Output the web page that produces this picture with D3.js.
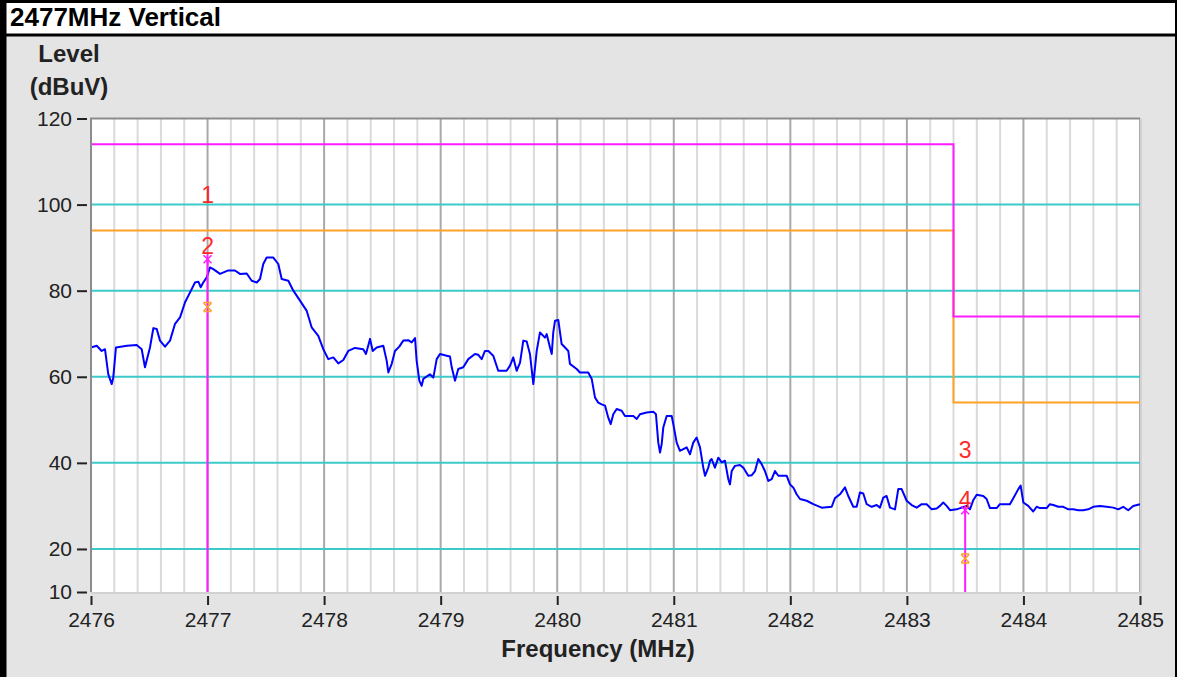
<!DOCTYPE html>
<html>
<head>
<meta charset="utf-8">
<script src="https://cdn.jsdelivr.net/npm/d3@7"></script>
<style>
  body { margin: 0; background: #fff; }
  svg { display: block; font-family: "Liberation Sans", Arial, sans-serif; }
</style>
</head>
<body>
<svg id="chart" width="1177" height="677"></svg>
<script>
const title = '2477MHz Vertical'

// measured trace: [frequency MHz, level dBuV]
const trace = [
  [2476.000,66.8],[2476.049,67.2],[2476.092,66.0],[2476.120,66.4],[2476.148,60.6],[2476.178,58.3],[2476.191,59.8],[2476.214,66.8],
  [2476.309,67.2],[2476.392,67.4],[2476.435,66.4],[2476.463,62.2],[2476.506,66.8],[2476.535,71.3],[2476.564,71.1],[2476.592,68.4],
  [2476.635,67.0],[2476.678,68.4],[2476.721,72.3],[2476.764,73.8],[2476.807,77.3],[2476.850,79.6],[2476.892,81.9],[2476.921,82.1],
  [2476.941,80.8],[2476.963,81.9],[2476.993,83.1],[2477.021,85.4],[2477.049,85.0],[2477.107,83.9],[2477.178,84.7],[2477.235,84.7],
  [2477.278,83.9],[2477.336,84.0],[2477.379,82.3],[2477.422,81.9],[2477.450,82.7],[2477.478,86.2],[2477.507,87.7],[2477.564,87.7],
  [2477.607,86.2],[2477.636,82.7],[2477.693,82.3],[2477.736,80.0],[2477.793,77.7],[2477.851,75.3],[2477.893,71.5],[2477.950,69.5],
  [2477.993,66.4],[2478.036,64.1],[2478.079,64.5],[2478.122,63.1],[2478.165,63.9],[2478.207,66.0],[2478.265,66.7],[2478.336,66.4],
  [2478.359,65.3],[2478.394,68.8],[2478.417,66.0],[2478.451,66.8],[2478.508,67.2],[2478.537,63.7],[2478.551,61.0],[2478.580,63.0],
  [2478.608,66.0],[2478.645,67.0],[2478.679,68.4],[2478.722,68.5],[2478.751,68.0],[2478.780,69.0],[2478.794,63.7],[2478.817,59.1],
  [2478.837,57.9],[2478.851,59.5],[2478.908,60.6],[2478.937,59.8],[2478.966,64.1],[2478.994,65.3],[2479.052,64.9],[2479.080,64.7],
  [2479.095,62.2],[2479.123,59.1],[2479.151,61.8],[2479.194,62.2],[2479.237,64.1],[2479.294,65.3],[2479.323,65.1],[2479.352,64.1],
  [2479.380,66.0],[2479.409,66.0],[2479.451,64.9],[2479.494,61.4],[2479.566,61.4],[2479.595,62.6],[2479.623,64.5],[2479.652,61.4],
  [2479.681,63.3],[2479.709,68.4],[2479.738,68.2],[2479.766,65.3],[2479.795,58.3],[2479.824,66.0],[2479.852,70.3],[2479.895,69.1],
  [2479.910,69.9],[2479.938,66.8],[2479.953,65.3],[2479.966,70.3],[2479.981,73.0],[2480.009,73.2],[2480.038,67.6],[2480.067,66.8],
  [2480.095,66.0],[2480.109,63.0],[2480.167,61.8],[2480.195,61.0],[2480.230,61.0],[2480.266,61.0],[2480.296,59.5],[2480.324,55.2],
  [2480.352,54.0],[2480.381,53.6],[2480.410,53.3],[2480.438,50.5],[2480.459,49.0],[2480.481,51.3],[2480.510,52.5],[2480.553,52.1],
  [2480.581,50.9],[2480.653,50.9],[2480.682,50.2],[2480.710,51.3],[2480.767,51.7],[2480.824,51.9],[2480.847,51.3],[2480.867,44.7],
  [2480.882,42.4],[2480.896,44.3],[2480.910,48.2],[2480.939,50.9],[2480.982,50.9],[2480.996,49.0],[2481.025,44.7],[2481.053,42.8],
  [2481.082,43.2],[2481.111,43.6],[2481.139,42.0],[2481.167,44.7],[2481.196,45.9],[2481.225,43.6],[2481.253,38.9],[2481.268,37.0],
  [2481.296,38.9],[2481.311,40.5],[2481.325,40.9],[2481.353,38.9],[2481.382,41.2],[2481.411,40.1],[2481.439,40.5],[2481.468,36.2],
  [2481.482,35.0],[2481.497,38.1],[2481.525,39.3],[2481.568,39.5],[2481.596,38.9],[2481.639,37.0],[2481.668,37.1],[2481.697,38.1],
  [2481.725,40.9],[2481.754,39.7],[2481.782,38.1],[2481.811,35.8],[2481.840,36.2],[2481.868,38.1],[2481.897,37.0],[2481.969,37.0],
  [2481.997,35.0],[2482.025,34.3],[2482.054,32.7],[2482.083,31.6],[2482.140,31.2],[2482.197,30.4],[2482.269,29.6],[2482.355,29.8],
  [2482.383,31.8],[2482.426,32.7],[2482.469,34.3],[2482.497,32.3],[2482.540,29.8],[2482.569,29.8],[2482.597,33.1],[2482.626,32.9],
  [2482.655,30.4],[2482.698,29.8],[2482.741,30.2],[2482.769,29.6],[2482.797,31.9],[2482.826,32.3],[2482.855,29.6],[2482.898,29.2],
  [2482.926,33.9],[2482.955,33.9],[2482.998,31.2],[2483.041,30.2],[2483.084,29.6],[2483.127,30.4],[2483.170,30.4],[2483.213,29.2],
  [2483.256,29.4],[2483.284,30.0],[2483.312,30.8],[2483.341,30.0],[2483.370,29.0],[2483.427,29.2],[2483.470,29.6],[2483.513,30.0],
  [2483.541,29.2],[2483.569,31.3],[2483.599,32.6],[2483.655,32.3],[2483.684,31.6],[2483.713,29.5],[2483.770,29.5],[2483.798,30.4],
  [2483.884,30.4],[2483.913,31.8],[2483.956,33.9],[2483.976,34.7],[2483.999,30.8],[2484.041,30.0],[2484.084,28.7],[2484.113,29.8],
  [2484.142,29.5],[2484.199,29.5],[2484.227,30.4],[2484.256,30.2],[2484.299,29.8],[2484.342,29.8],[2484.385,29.2],[2484.427,29.2],
  [2484.470,29.0],[2484.513,29.0],[2484.556,29.2],[2484.599,29.8],[2484.656,30.0],[2484.714,29.8],[2484.771,29.6],[2484.814,29.2],
  [2484.856,29.8],[2484.899,29.0],[2484.942,30.0],[2485.000,30.4]
]

// limit lines (step after)
const limitFreqs = [2476, 2483.4, 2485]
const peakLimit = [114, 74, 74]
const avgLimit = [94, 54, 54]

// markers
const markerFreqs = [2477, 2483.5]
const markerPeak = [87.3, 29.0]
const markerAvg = [76.2, 17.8]
const labelNames = ['1', '2', '3', '4']
const labelFreqs = [2477, 2477, 2483.5, 2483.5]
const labelLevels = [102.2, 90.4, 43.0, 31.4]

const xTicks = [2476, 2477, 2478, 2479, 2480, 2481, 2482, 2483, 2484, 2485]
const yTicks = [10, 20, 40, 60, 80, 100, 120]
const gridLevels = [20, 40, 60, 80, 100]

const svg = d3.select('#chart')

const x = d3.scaleLinear().domain([2476, 2485]).range([91, 1140])
const y = d3.scaleLinear().domain([10, 120]).range([592, 118.5])

// frame
svg.append('rect').attr('width', 1177).attr('height', 677).attr('fill', '#000')
svg.append('rect').attr('x', 6.5).attr('y', 3).attr('width', 1168.5).attr('height', 30.5).attr('fill', '#fff')
svg.append('rect').attr('x', 6.5).attr('y', 36.5).attr('width', 1168.5).attr('height', 641).attr('fill', '#e4e4e4')

svg.append('text')
  .attr('x', 10).attr('y', 26)
  .attr('font-size', 26).attr('font-weight', 'bold')
  .text(title)

// plot background
const [x0, x1] = x.range()
const [yb, yt] = y.range()
svg.append('rect').attr('x', x0).attr('y', yt).attr('width', x1 - x0).attr('height', yb - yt).attr('fill', '#fff')

// vertical grid every 0.2 MHz
const minorFreqs = x.ticks(45)
svg.append('g').selectAll('line').data(minorFreqs).join('line')
  .attr('x1', d => x(d)).attr('x2', d => x(d))
  .attr('y1', yt).attr('y2', yb)
  .attr('stroke', d => Math.abs(d - Math.round(d)) < 1e-6 ? '#a9a9a9' : '#dadada')
  .attr('stroke-width', 2)

svg.append('g').selectAll('line').data(gridLevels).join('line')
  .attr('x1', x0).attr('x2', x1)
  .attr('y1', d => y(d)).attr('y2', d => y(d))
  .attr('stroke', '#3cc9c9').attr('stroke-width', 2)

const step = d3.line().x(d => x(d[0])).y(d => y(d[1])).curve(d3.curveStepAfter)
svg.append('path')
  .attr('d', step(limitFreqs.map((f, i) => [f, avgLimit[i]])))
  .attr('fill', 'none').attr('stroke', '#ffa126').attr('stroke-width', 2)
svg.append('path')
  .attr('d', step(limitFreqs.map((f, i) => [f, peakLimit[i]])))
  .attr('fill', 'none').attr('stroke', '#ff1cff').attr('stroke-width', 2)

const line = d3.line().x(d => x(d[0])).y(d => y(d[1]))
svg.append('path')
  .attr('d', line(trace))
  .attr('fill', 'none').attr('stroke', '#0000ff').attr('stroke-width', 2)
  .attr('stroke-linejoin', 'round')

// marker lines and symbols
svg.append('g').selectAll('line').data(markerFreqs).join('line')
  .attr('x1', d => x(d)).attr('x2', d => x(d))
  .attr('y1', yb).attr('y2', (d, i) => y(markerPeak[i]))
  .attr('stroke', '#ff1cff').attr('stroke-width', 2)

svg.append('g').selectAll('path').data(markerFreqs).join('path')
  .attr('transform', (d, i) => `translate(${x(d)},${y(markerPeak[i])})`)
  .attr('d', 'M-4,-4L4,4M4,-4L-4,4M0,-5V5')
  .attr('stroke', '#ff1cff').attr('stroke-width', 1.5).attr('fill', 'none')

svg.append('g').selectAll('path').data(markerFreqs).join('path')
  .attr('transform', (d, i) => `translate(${x(d)},${y(markerAvg[i])})`)
  .attr('d', 'M-4,-4L4,4M4,-4L-4,4M-4,-4.5H4M-4,4.5H4')
  .attr('stroke', '#ffa126').attr('stroke-width', 1.5).attr('fill', 'none')

svg.append('g').selectAll('text').data(labelNames).join('text')
  .attr('x', (d, i) => x(labelFreqs[i]))
  .attr('y', (d, i) => y(labelLevels[i]))
  .attr('dy', '0.36em')
  .attr('text-anchor', 'middle')
  .attr('font-size', 23).attr('fill', '#ff2a2a')
  .text(d => d)

// plot border
svg.append('path').attr('d', `M${x0},${yb}V${yt}H${x1}`)
  .attr('fill', 'none').attr('stroke', '#8c8c8c').attr('stroke-width', 2)
svg.append('path').attr('d', `M${x0},${yb + 1}H${x1 + 1}V${yt}`)
  .attr('fill', 'none').attr('stroke', '#d2d2d2').attr('stroke-width', 2)

// axes
const xAxis = svg.append('g')
  .attr('transform', `translate(0,${yb + 4})`)
  .call(d3.axisBottom(x).tickValues(xTicks).tickFormat(d3.format('d')).tickSize(9).tickPadding(7))
const yAxis = svg.append('g')
  .attr('transform', `translate(${x0 - 4},0)`)
  .call(d3.axisLeft(y).tickValues(yTicks).tickSize(10).tickPadding(5))

for (const ax of [xAxis, yAxis]) {
  ax.select('.domain').remove()
  ax.selectAll('line').attr('stroke', '#222').attr('stroke-width', 2)
  ax.selectAll('text').attr('font-size', 21).attr('fill', '#222')
    .attr('font-family', '"Liberation Sans", Arial, sans-serif')
}

svg.append('text')
  .attr('x', 598).attr('y', 657)
  .attr('text-anchor', 'middle')
  .attr('font-size', 24).attr('font-weight', 'bold').attr('fill', '#222')
  .text('Frequency (MHz)')

svg.append('text')
  .attr('x', 69).attr('y', 62)
  .attr('text-anchor', 'middle')
  .attr('font-size', 24).attr('font-weight', 'bold').attr('fill', '#222')
  .text('Level')
svg.append('text')
  .attr('x', 69).attr('y', 95)
  .attr('text-anchor', 'middle')
  .attr('font-size', 24).attr('font-weight', 'bold').attr('fill', '#222')
  .text('(dBuV)')
</script>
</body>
</html>
